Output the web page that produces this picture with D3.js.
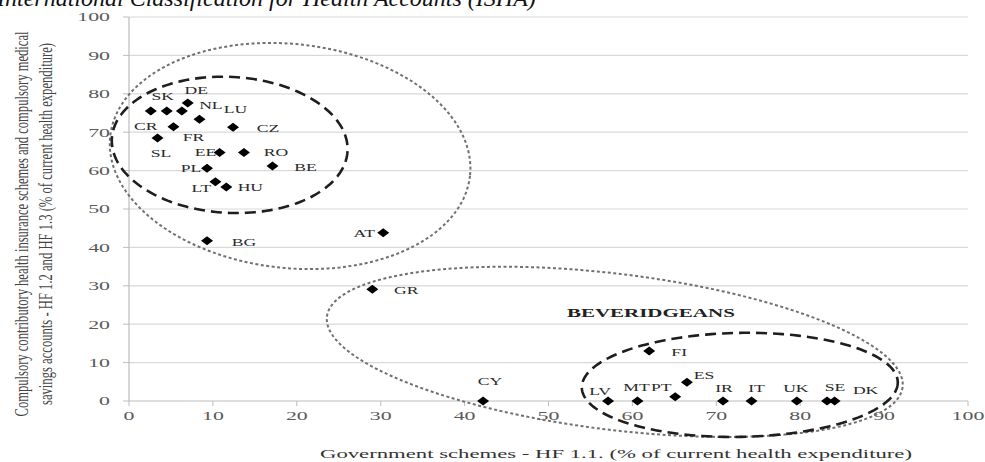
<!DOCTYPE html>
<html><head><meta charset="utf-8">
<script src="https://cdn.jsdelivr.net/npm/d3@7"></script>
<style>body{margin:0;background:#fff}svg{display:block}</style>
</head><body>
<svg id="c" width="985" height="462"></svg>
<script>
// ---------- data ----------
const xTicks = [0,10,20,30,40,50,60,70,80,90,100];
const yTicks = [0,10,20,30,40,50,60,70,80,90,100];
const countries = ["SK","CR","NL","DE","LU","FR","CZ","SL","EE","RO","BE","PL","LT","HU","BG","AT","GR","CY","FI","ES","LV","MT","PT","IR","IT","UK","SE","DK"];
const govSchemes = [2.6,4.5,6.3,7.0,8.4,5.3,12.4,3.4,10.8,13.7,17.1,9.3,10.3,11.6,9.3,30.3,29.0,42.2,62.0,66.5,57.1,60.6,65.1,70.8,74.2,79.6,83.2,84.1];
const compulsoryIns = [75.5,75.5,75.5,77.6,73.4,71.4,71.3,68.5,64.7,64.7,61.2,60.6,57.1,55.7,41.7,43.8,29.1,0,13.0,4.9,0,0,1.1,0,0,0,0,0];
// label offsets (px) relative to each point
const labelOffsets = [[12,-15],[-21,15],[29,-6],[8.5,-13],[36,-10],[20,10],[35,1],[3.5,15],[-14,0],[32,0],[33,1],[-16,0],[-14,6],[24,0],[37,1],[-19,0],[34,1],[7,-20],[30,1],[17,-7],[-8,-10],[-1,-14],[-14,-10],[1,-13],[5,-13],[-1,-13],[8,-14],[31,-11]];
const titleText = "International Classification for Health Accounts (ISHA)";
const xTitle = "Government schemes - HF 1.1. (% of current health expenditure)";
const yTitle1 = "Compulsory contributory health insurance schemes and compulsory medical";
const yTitle2 = "savings accounts - HF 1.2 and HF 1.3 (% of current health expenditure)";
const groupLabel = "BEVERIDGEANS";
const groupLabelAt = [62.2, 22.9];
// ellipse annotations: centre in data units
const ellipseCentres = [[19.2,63.8],[12.0,66.7],[57.9,12.8],[72.8,4.2]];
const ellipseShapes = [ // semi-axes px, rotation deg, style
  {a:181,b:112,rot:6.3,kind:"dot"},
  {a:118,b:68,rot:3,kind:"dash"},
  {a:290,b:78,rot:7,kind:"dot"},
  {a:158,b:52,rot:-1,kind:"dash"}
];

// ---------- chart ----------
const svg = d3.select("#c");
const x = d3.scaleLinear().domain([0,100]).range([129,968]);
const y = d3.scaleLinear().domain([0,100]).range([401,17]);
const SX = 1.75;
const serif = "'Liberation Serif','Times New Roman',serif";

function sText(g, px, py, str, o) {
  const t = g.append("text")
    .attr("transform", `translate(${px},${py}) scale(${o.sx||SX},1)`)
    .attr("text-anchor", o.anchor||"middle")
    .attr("dy", "0.35em")
    .attr("font-family", serif)
    .attr("font-size", o.size||12)
    .attr("font-weight", o.weight||"normal")
    .attr("fill", o.fill||"#333")
    .text(str);
  return t;
}

// title (clipped at top)
svg.append("text").attr("x",-3).attr("y",6)
  .attr("font-family",serif).attr("font-style","italic").attr("font-size",24)
  .attr("fill","#111").text(titleText);

// gridlines
svg.append("g").selectAll("line").data(yTicks.filter(d=>d>0)).join("line")
  .attr("x1",x(0)).attr("x2",x(100)).attr("y1",d=>y(d)).attr("y2",d=>y(d))
  .attr("stroke","#d9d9d9").attr("stroke-width",1.2);
// axes
svg.append("line").attr("x1",x(0)).attr("x2",x(0)).attr("y1",y(0)).attr("y2",y(100)).attr("stroke","#bdbdbd").attr("stroke-width",1.2);
svg.append("line").attr("x1",x(0)).attr("x2",x(100)).attr("y1",y(0)).attr("y2",y(0)).attr("stroke","#bdbdbd").attr("stroke-width",1.2);
svg.append("g").selectAll("line").data(yTicks).join("line")
  .attr("x1",x(0)-6).attr("x2",x(0)).attr("y1",d=>y(d)).attr("y2",d=>y(d)).attr("stroke","#bdbdbd");
svg.append("g").selectAll("line").data(xTicks).join("line")
  .attr("x1",d=>x(d)).attr("x2",d=>x(d)).attr("y1",y(0)).attr("y2",y(0)+5).attr("stroke","#bdbdbd");

// tick labels
const tl = svg.append("g");
yTicks.forEach(v => sText(tl, x(0)-19, y(v), String(v), {anchor:"end", size:12.5, fill:"#5a5a5a"}));
xTicks.forEach(v => sText(tl, x(v), y(0)+15, String(v), {size:12.5, fill:"#5a5a5a"}));

// axis titles
svg.append("text").attr("x",616).attr("y",453).attr("dy","0.35em")
  .attr("text-anchor","middle").attr("font-family",serif).attr("font-size",13.5)
  .attr("fill","#333").attr("textLength",592).attr("lengthAdjust","spacingAndGlyphs").text(xTitle);
const yl = svg.append("g").attr("transform","translate(33,224) scale(1.8,1) rotate(-90)");
yl.append("text").attr("x",0).attr("y",-6.7).attr("dy","0.35em").attr("text-anchor","middle")
  .attr("font-family",serif).attr("font-size",10.5).attr("fill","#444")
  .attr("textLength",385).attr("lengthAdjust","spacingAndGlyphs").text(yTitle1);
yl.append("text").attr("x",0).attr("y",6.7).attr("dy","0.35em").attr("text-anchor","middle")
  .attr("font-family",serif).attr("font-size",10.5).attr("fill","#444")
  .attr("textLength",362).attr("lengthAdjust","spacingAndGlyphs").text(yTitle2);

// ellipses
const line = d3.line().curve(d3.curveLinearClosed);
ellipseShapes.forEach((e,i) => {
  const cx = x(ellipseCentres[i][0]), cy = y(ellipseCentres[i][1]);
  const th = e.rot*Math.PI/180;
  const pts = d3.range(0, 2*Math.PI, Math.PI/90).map(t => {
    const ex = e.a*Math.cos(t), ey = e.b*Math.sin(t);
    return [cx + ex*Math.cos(th) - ey*Math.sin(th), cy + ex*Math.sin(th) + ey*Math.cos(th)];
  });
  svg.append("path").attr("d", line(pts)).attr("fill","none")
    .attr("stroke", e.kind==="dot" ? "#707070" : "#1e1e1e")
    .attr("stroke-width", e.kind==="dot" ? 2 : 2.6)
    .attr("stroke-dasharray", e.kind==="dot" ? "3,2.5" : "11,6");
});

// points
const data = countries.map((c,i)=>({c, gx:govSchemes[i], iy:compulsoryIns[i], off:labelOffsets[i]}));
const diamond = "M0,-4.5L6,0L0,4.5L-6,0Z";
svg.append("g").selectAll("path").data(data).join("path")
  .attr("d",diamond).attr("transform",d=>`translate(${x(d.gx)},${y(d.iy)})`).attr("fill","#000");
const lg = svg.append("g");
data.forEach(d => sText(lg, x(d.gx)+d.off[0], y(d.iy)+d.off[1], d.c, {size:11, sx:1.6, fill:"#2a2a2a"}));

// group label
sText(svg, x(groupLabelAt[0]), y(groupLabelAt[1]), groupLabel, {size:12, weight:"bold", sx:1.75, fill:"#222"});
</script>
</body></html>
